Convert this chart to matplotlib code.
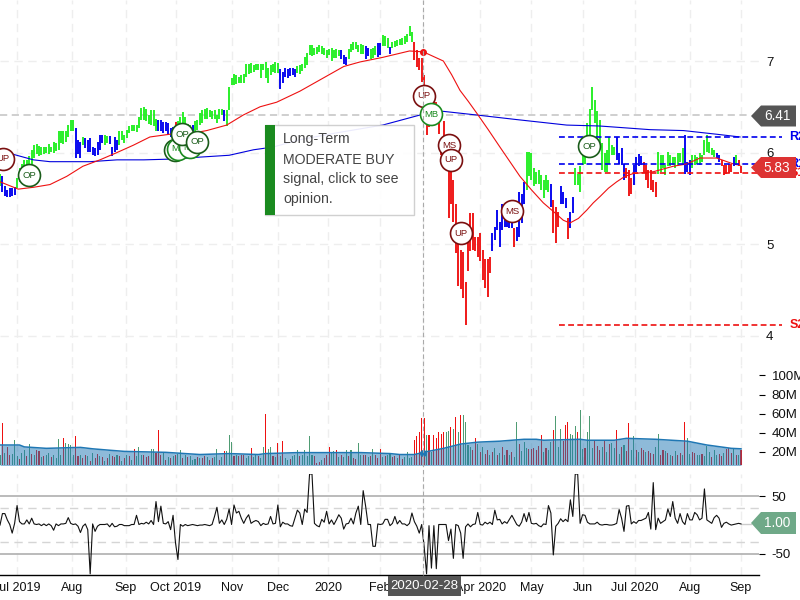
import numpy as np
import matplotlib
matplotlib.use('Agg')
import matplotlib.pyplot as plt
from matplotlib.patches import Polygon, Rectangle

plt.rcParams['font.family'] = ['Liberation Sans', 'DejaVu Sans']

# daily bars
highs = [5.76,5.74,5.63,5.59,5.61,5.61,5.62,5.72,5.83,5.88,
5.92,5.92,5.96,6.03,6.08,6.09,6.07,6.06,6.06,6.06,
6.09,6.06,6.11,6.10,6.23,6.23,6.23,6.23,6.30,6.36,
6.36,6.27,6.14,6.12,6.17,6.16,6.14,6.16,6.06,6.05,
6.12,6.19,6.19,6.19,6.18,6.18,6.06,6.17,6.14,6.23,
6.23,6.19,6.25,6.29,6.30,6.30,6.30,6.39,6.49,6.50,
6.48,6.41,6.47,6.47,6.37,6.36,6.36,6.33,6.33,6.32,
6.27,6.28,6.33,6.34,6.39,6.44,6.39,6.31,6.30,6.30,
6.34,6.36,6.43,6.47,6.48,6.49,6.47,6.45,6.47,6.41,
6.48,6.48,6.46,6.47,6.72,6.81,6.86,6.85,6.83,6.85,
6.86,6.97,6.97,6.98,6.96,6.97,6.97,6.97,6.97,6.99,
6.92,6.96,6.97,6.99,6.98,6.91,6.88,6.92,6.91,6.92,
6.92,6.91,6.95,6.96,6.97,7.04,7.09,7.18,7.18,7.14,
7.15,7.18,7.16,7.14,7.12,7.13,7.14,7.12,7.13,7.12,
7.12,7.07,7.04,7.13,7.19,7.21,7.21,7.18,7.19,7.18,
7.16,7.14,7.13,7.14,7.16,7.20,7.20,7.28,7.27,7.25,
7.15,7.21,7.22,7.23,7.24,7.25,7.27,7.30,7.38,7.32,
7.21,7.12,7.03,7.03,6.85,6.60,6.55,6.50,6.55,6.55,
6.40,6.14,6.34,6.17,5.81,5.79,5.70,5.44,5.08,4.93,
4.91,4.59,5.04,5.34,5.34,5.08,5.08,5.12,4.93,4.84,
4.84,4.86,5.12,5.19,5.37,5.24,5.44,5.37,5.34,5.32,
5.30,5.17,5.19,5.57,5.55,5.68,6.01,6.01,5.99,5.83,
5.79,5.81,5.75,5.70,5.75,5.70,5.66,5.48,5.41,5.35,
5.63,5.57,5.50,5.28,5.35,5.51,5.83,5.77,5.85,6.01,
5.97,6.32,6.48,6.72,6.57,6.45,6.36,6.10,5.99,6.03,
6.17,6.08,6.06,6.17,5.99,6.05,5.88,5.83,5.81,5.72,
5.86,5.95,5.98,5.96,5.90,5.86,5.81,5.81,5.70,5.68,
6.01,5.97,5.97,5.86,6.01,5.97,5.95,5.95,5.99,5.99,
6.05,6.19,5.90,5.92,5.97,5.97,5.95,5.99,5.97,6.14,
6.19,6.12,6.05,6.03,5.99,5.97,5.92,5.86,5.86,5.88,
5.88,5.95,5.97,5.92,5.85]
lows = [5.63,5.57,5.52,5.51,5.51,5.52,5.54,5.61,5.68,5.76,
5.77,5.81,5.85,5.88,5.94,5.98,5.96,5.97,5.98,6.00,
5.98,6.01,6.00,6.02,6.03,6.10,6.09,6.12,6.17,6.23,
6.24,5.94,5.98,5.94,6.08,6.05,6.01,6.01,5.97,5.96,
5.97,6.03,6.10,6.08,6.10,6.09,5.96,6.01,6.03,6.08,
6.14,6.10,6.16,6.21,6.23,6.23,6.22,6.27,6.36,6.36,
6.34,6.31,6.30,6.29,6.23,6.23,6.23,6.21,6.23,6.20,
6.17,6.17,6.21,6.23,6.27,6.30,6.28,6.23,6.23,6.23,
6.24,6.25,6.30,6.32,6.37,6.37,6.39,6.37,6.37,6.32,
6.37,6.41,6.34,6.29,6.47,6.74,6.74,6.75,6.76,6.76,
6.76,6.83,6.86,6.87,6.88,6.90,6.90,6.82,6.90,6.81,
6.76,6.85,6.88,6.87,6.87,6.69,6.76,6.83,6.82,6.84,
6.85,6.83,6.87,6.86,6.89,6.92,6.96,7.07,7.05,7.07,
7.08,7.10,7.08,7.07,7.03,7.07,7.00,7.03,7.03,7.05,
7.02,6.97,6.96,7.02,7.10,7.12,7.13,7.10,7.08,7.08,
7.02,7.05,7.02,7.03,7.07,7.04,7.07,7.16,7.16,7.14,
7.08,7.14,7.15,7.16,7.18,7.18,7.19,7.21,7.27,7.21,
7.01,6.94,6.90,6.77,6.60,6.19,6.28,6.35,6.40,6.45,
6.20,5.97,6.10,5.95,5.28,5.44,5.24,4.90,4.54,4.51,
4.41,4.11,4.70,4.92,4.94,4.92,4.86,4.81,4.61,4.52,
4.42,4.68,4.92,5.04,5.15,4.97,5.15,5.19,5.19,5.17,
5.17,4.97,5.03,5.08,5.23,5.44,5.59,5.74,5.70,5.63,
5.66,5.66,5.59,5.50,5.59,5.57,5.41,5.12,5.01,5.19,
5.44,5.44,5.39,5.06,5.17,5.34,5.65,5.65,5.57,5.86,
5.88,5.95,6.17,6.47,6.32,6.17,6.10,5.81,5.79,5.79,
5.88,5.97,5.97,5.92,5.88,5.86,5.70,5.72,5.52,5.55,
5.65,5.79,5.85,5.86,5.79,5.70,5.61,5.59,5.57,5.51,
5.77,5.79,5.83,5.75,5.85,5.85,5.86,5.83,5.86,5.90,
5.88,5.77,5.79,5.75,5.83,5.86,5.88,5.86,5.90,5.97,
6.01,5.99,5.97,5.95,5.94,5.90,5.85,5.75,5.77,5.78,
5.79,5.85,5.86,5.85,5.78]
bar_kinds = ("gbbbbbbggg" "gggggggggg" "gggggggggg" "gbbbgbbbbb" "bbbggbbbbg"
"gggggggggg" "gggggbbbbb" "bbrggggggb" "gggggggggg" "ggbggggggg"
"gggggggggg" "gggggbbbbb" "bbgggggggg" "gggggggggg" "bbbggggggg"
"bbgggbbggg" "bggggggggg" "rrrrrrrrrr" "rrrrrrrrrr" "rrrrrrrrrr"
"rrbbbbbbbb" "brbbbbgggg" "ggggggbrrr" "bbbrbbgggg" "gggggggggg"
"gggbbbbrrr" "bbbbrrrrrr" "gggggggggg" "gbbbgggggg" "ggggbbrrrr" "rbgrr")

# moving averages
red_ma_x = [0,7.5,13.7,20.5,27.4,34,41,48,54.7,61.5,69.7,76.6,84.8,93,99.8,106.7,113.5,123,131,141,147.7,157,168,173.7,
177.8,181.9,185.3,188.7,192.1,195.6,200.3,205.1,209.2,213.3,218.1,222.9,227.7,231.1,233.8,237.3,240.7,243.4,246.2,249.6,253,256.4,259.8,268,276.2,281.7,287.2,294,300.9,303.6]
red_ma = [5.68,5.60,5.62,5.65,5.74,5.85,5.92,6.00,6.08,6.17,6.20,6.20,6.24,6.30,6.41,6.50,6.55,6.67,6.79,6.94,6.99,7.04,7.11,7.10,
7.05,7.00,6.85,6.68,6.56,6.43,6.25,6.06,5.90,5.74,5.59,5.45,5.34,5.26,5.23,5.28,5.37,5.45,5.52,5.61,5.68,5.74,5.77,5.79,5.85,5.875,5.94,5.94,5.875,5.86]
blue_ma_x = [5.5,13.7,20.5,37,48,59,72.5,82,94,104,112,123,137,157,173.7,181.9,195.6,212,232.5,246,266.7,280.4,294,303.6]
blue_ma = [5.98,5.92,5.90,5.90,5.92,5.92,5.93,5.95,5.97,6.03,6.06,6.14,6.21,6.30,6.42,6.45,6.41,6.36,6.30,6.29,6.25,6.24,6.20,6.17]

# support and resistance
level_names = ['R2', 'R1', 'S1', 'S2']
level_values = [6.17, 5.87, 5.78, 4.11]
level_colors = ['#0000ee', '#0000ee', '#ee1111', '#ee1111']
level_start = 229.4
level_end = 320.8

# signal badges
sig_x = [1.2,11.9,71.8,73,78,74.7,80.8,174,176.8,184.2,185,189.1,210,241.6]
sig_y = [5.93,5.75,6.03,6.04,6.06,6.20,6.12,6.62,6.42,6.08,5.92,5.12,5.36,6.07]
sig_text = ['UP','OP','OP','MB','MB','OP','OP','UP','MB','MS','UP','UP','MS','OP']

# volume in millions
volumes = [16,50,19,25,17,18,32,15,12,19,
22,15,28,18,17,22,21,14,15,17,
19,14,17,13,33,16,34,29,28,27,
16,36,15,16,13,17,15,10,19,13,
18,15,14,10,13,18,15,14,16,15,
10,13,16,15,11,23,15,25,17,16,
14,15,23,23,19,43,16,20,11,14,
13,15,16,18,22,13,16,14,15,11,
12,14,13,13,15,14,11,13,14,23,
11,14,21,21,38,30,15,17,15,16,
16,13,15,24,14,16,15,13,25,60,
23,25,15,14,29,15,31,13,11,12,
15,16,22,15,17,22,15,36,16,15,
8,9,11,13,17,25,19,21,22,14,
17,14,22,15,22,13,12,29,17,16,
17,14,15,23,16,13,23,14,15,16,
19,14,15,13,16,12,14,20,13,14,
32,36,41,55,55,37,38,20,38,34,
41,39,41,41,42,46,44,56,41,58,
58,51,27,25,22,34,28,20,25,18,
22,17,20,24,16,19,25,17,22,16,
20,14,51,28,21,30,24,23,23,24,
22,26,37,20,24,22,30,43,57,25,
44,31,48,51,39,38,47,41,64,23,
24,41,57,24,31,26,22,25,32,20,
28,29,24,43,18,25,27,21,50,22,
36,22,20,24,22,20,21,19,18,25,
39,16,22,21,19,17,15,21,17,19,
17,51,34,18,20,19,16,17,18,15,
26,20,14,22,17,18,15,19,23,24,
19,24,17,17,22]
vol_kinds = ("grgrrgggrg" "grgrgrrgrg" "grggggrggg" "grrgrrgrgr" "rgrgrgrrgr"
"grgrgrgggr" "rrggrrrgrg" "rgrggrgrgg" "grgrrgrrgg" "rgrgggrgrr"
"rggrggrggr" "ggrgrgrggr" "gggrgggggr" "rrgrrrggrg" "rggrgrrggr"
"rgrgrrrgrg" "grrgrrgggg" "rrrrrgrgrr" "rrrggrgrgr" "ggggrrgrgr"
"rgrgrgrgrg" "rggrgggrrr" "rrrgrggrgg" "grrrgggrgg" "rgggrrrgrg"
"rggrgrgrrg" "grgrrgrrrg" "grrgrgrgrr" "grggrrggrg" "ggrggrrgrr" "rgrgr")
vol_ma_x = [0,8,10,19,33,38,45,51,68,82,94,106,109,122,148,160,164,170,175,182,189,196,205,215,220,223,238,241,252,257,269,282,290,300,304]
vol_ma = [27,27,25,23.5,24.5,23,21.5,20.3,19.3,17,18,17,18,19,19,18,17,17,20,23.5,28,30,31,33,33,32,33,32,32,34,33,31,27,23.5,23]

# oscillator
cci = [0,20,20,9,1,-14,3,34,6,2,
2,9,2,12,2,1,2,-1,2,-1,
2,-1,-9,2,-1,2,2,3,13,3,
1,2,-2,-13,-2,2,-8,-85,2,-11,
-2,1,1,1,2,-3,3,-3,-2,1,
1,-1,-1,-1,1,1,17,1,3,2,
5,2,8,1,41,6,33,3,2,6,
-8,17,-31,-60,1,-2,1,-1,0,1,
0,-1,0,0,1,0,-1,1,15,31,
3,9,1,10,28,1,35,21,24,12,
3,12,18,3,6,8,6,-1,3,1,
2,15,2,3,35,-3,5,2,2,-1,
-2,12,26,21,1,28,22,89,89,3,
-1,-3,10,5,24,2,9,1,9,18,
12,-7,2,3,12,2,21,33,1,60,
33,1,1,-37,-37,2,1,2,10,10,
-1,3,15,2,8,2,2,-1,3,21,
6,-2,-14,1,-37,-85,-1,-75,-1,-76,
1,1,1,1,-27,-7,-58,1,-1,-14,
-58,-3,2,-3,1,2,22,1,0,5,
2,5,1,26,9,10,2,6,3,10,
17,9,1,-2,5,20,6,22,3,2,
3,-1,-3,2,1,34,21,-52,-2,3,
11,6,10,6,44,15,89,89,3,18,
17,5,2,2,2,5,1,0,1,1,
0,0,1,3,27,12,-11,33,34,2,
6,3,8,8,10,12,22,-7,74,-8,
12,3,6,9,28,15,41,12,3,20,
6,1,20,9,9,22,18,9,12,63,
9,6,3,13,17,12,-4,3,5,2,
0,1,2,3,2]

month_pos = [7,29.5,51.7,72,95,114,134.5,156,173.5,197,218,239,260.5,283,304]
month_labels = ['Jul 2019','Aug','Sep','Oct 2019','Nov','Dec','2020','Feb','Mar 2020','Apr 2020','May','Jun','Jul 2020','Aug','Sep']

last_price = 5.83
prev_close = 6.41
last_cci = 1.00
cursor_x = 173.6
cursor_price = 7.10
cursor_vol = 18.5

bar_colors = {'g': '#22ee22', 'b': '#0000ee', 'r': '#ee1111'}
vol_colors = {'g': '#4f9c73', 'r': '#ee1111'}
grid_col = '#eeeeee'
txt_col = '#111111'
W, H = 800.0, 600.0
right = 759.0
xmax = right / 2.4375

def panel(top, bottom):
    ax = fig.add_axes([0, 1 - bottom / H, right / W, (bottom - top) / H])
    ax.patch.set_alpha(0)
    ax.set_xlim(0, xmax)
    for s in ['top', 'left', 'right', 'bottom']:
        ax.spines[s].set_visible(False)
    ax.yaxis.tick_right()
    for m in month_pos:
        ax.axvline(m, color=grid_col, lw=1, ls=(0, (6, 4)), zorder=0)
    return ax

fig = plt.figure(figsize=(8, 6), dpi=100)

# price panel
ax = panel(0, 365)
ax.set_ylim(3.678, 7.667)
ax.set_xticks([])
ax.set_yticks([4, 5, 6, 7])
ax.tick_params(axis='y', length=0, pad=5, labelsize=9.5, labelcolor=txt_col)
for lv in [4, 5, 6, 7]:
    ax.axhline(lv, color=grid_col, lw=1, ls=(0, (6, 4)), zorder=0)
ax.plot([0, 751 / 2.4375], [prev_close, prev_close], color='#cccccc', lw=1.3, ls=(0, (4, 2.5)), zorder=1, clip_on=False)
x = np.arange(len(highs))
ax.vlines(x, lows, highs, colors=[bar_colors[k] for k in bar_kinds], lw=1.35, zorder=2)
ax.plot(blue_ma_x, blue_ma, color='#0000dd', lw=0.8, zorder=3)
ax.plot(red_ma_x, red_ma, color='#ee1111', lw=0.8, zorder=3)
ax.plot([cursor_x], [cursor_price], 'o', color='#ee1111', ms=4, zorder=4)
for name, val, col in zip(level_names, level_values, level_colors):
    ax.plot([level_start, level_end], [val, val], color=col, lw=1.2, ls=(0, (3.5, 2)), zorder=3, clip_on=False)
    ax.text(level_end + 3, val, name, color=col, fontsize=9, fontweight='bold', va='center', ha='left', clip_on=False)
# each badge sits on top of the earlier ones
for i, (sx, sy, st) in enumerate(zip(sig_x, sig_y, sig_text)):
    if st in ('UP', 'MS'):
        ec = '#7a1010'
    elif st == 'MB':
        ec = '#1a8a1f'
    else:
        ec = '#1a5c1a'
    ax.scatter([sx], [sy], s=250, facecolor='white', edgecolor=ec, lw=1.2, zorder=5 + i * 0.1, clip_on=False)
    ax.text(sx, sy, st, color=ec, fontsize=6.8, ha='center', va='center', zorder=5.05 + i * 0.1, clip_on=False)

# volume panel
av = panel(365, 465)
av.set_ylim(6, 111)
av.set_xticks([])
av.set_yticks([20, 40, 60, 80, 100])
av.set_yticklabels(['20M', '40M', '60M', '80M', '100M'])
av.tick_params(axis='y', length=4, width=0.8, pad=5, labelsize=9.5, labelcolor=txt_col)
av.bar(x, volumes, width=0.45, color=[vol_colors[k] for k in vol_kinds], zorder=2)
av.fill_between(vol_ma_x, 0, vol_ma, color='#1f77b4', alpha=0.5, lw=0, zorder=3)
av.plot(vol_ma_x, vol_ma, color='#1f77b4', lw=1.1, zorder=4)
av.plot([cursor_x], [cursor_vol], 'o', color='#1f77b4', ms=4, zorder=5)

# oscillator panel
ac = panel(474, 575)
ac.set_ylim(-87, 89)
ac.set_yticks([50, -50])
ac.set_yticklabels(['50', '-50'])
ac.tick_params(axis='y', length=4, width=0.8, pad=5, labelsize=9.5, labelcolor=txt_col)
ac.axhline(50, color='#b5b5b5', lw=1.3, zorder=1)
ac.axhline(-50, color='#b5b5b5', lw=1.3, zorder=1)
ac.axhline(30, color='#d5d5d5', lw=1, ls=(0, (6, 4)), zorder=1)
ac.axhline(-30, color='#d5d5d5', lw=1, ls=(0, (6, 4)), zorder=1)
ac.plot(x, cci, color='#111111', lw=0.8, zorder=3)
ac.plot([x[-1], 751 / 2.4375], [cci[-1], cci[-1]], color='#cccccc', lw=1, zorder=2)
ac.spines['bottom'].set_visible(True)
ac.spines['bottom'].set_linewidth(1)
ac.set_xticks(month_pos)
ac.set_xticklabels(month_labels)
ac.tick_params(axis='x', length=0, pad=5, labelsize=9, labelcolor=txt_col)

# overlay in pixels for crosshair, tooltip and value tags
ov = fig.add_axes([0, 0, 1, 1], zorder=10)
ov.set_xlim(0, W)
ov.set_ylim(H, 0)
ov.axis('off')
ov.patch.set_alpha(0)
ov.plot([423, 423], [0, 575], color='#aaaaaa', lw=0.8, ls=(0, (4, 2.5)))
ov.add_patch(Rectangle((388, 576), 73, 20, color='#555555', lw=0))
ov.text(424.5, 586, '2020-02-28', color='white', fontsize=9.5, ha='center', va='center')

ov.add_patch(Rectangle((265, 125), 149, 90, facecolor='white', edgecolor='#cccccc', lw=1, alpha=0.92))
ov.add_patch(Rectangle((265, 125), 10, 90, color='#1a8a1f', lw=0))
for i, line in enumerate(['Long-Term', 'MODERATE BUY', 'signal, click to see', 'opinion.']):
    ov.text(283, 139.5 + i * 20, line, color='#444444', fontsize=10.2, va='center', ha='left')

def value_tag(yc, half, col, label):
    pts = [(751, yc), (761, yc - half), (796, yc - half), (796, yc + half), (761, yc + half)]
    ov.add_patch(Polygon(pts, closed=True, color=col, lw=0))
    ov.text(777, yc, label, color='white', fontsize=9.8, ha='center', va='center')

value_tag(116, 10.5, '#555555', '%.2f' % prev_close)
value_tag(167.5, 10.5, '#dd3333', '%.2f' % last_price)
value_tag(523, 11, '#6fa988', '%.2f' % last_cci)

plt.savefig('out.png', dpi=100)
